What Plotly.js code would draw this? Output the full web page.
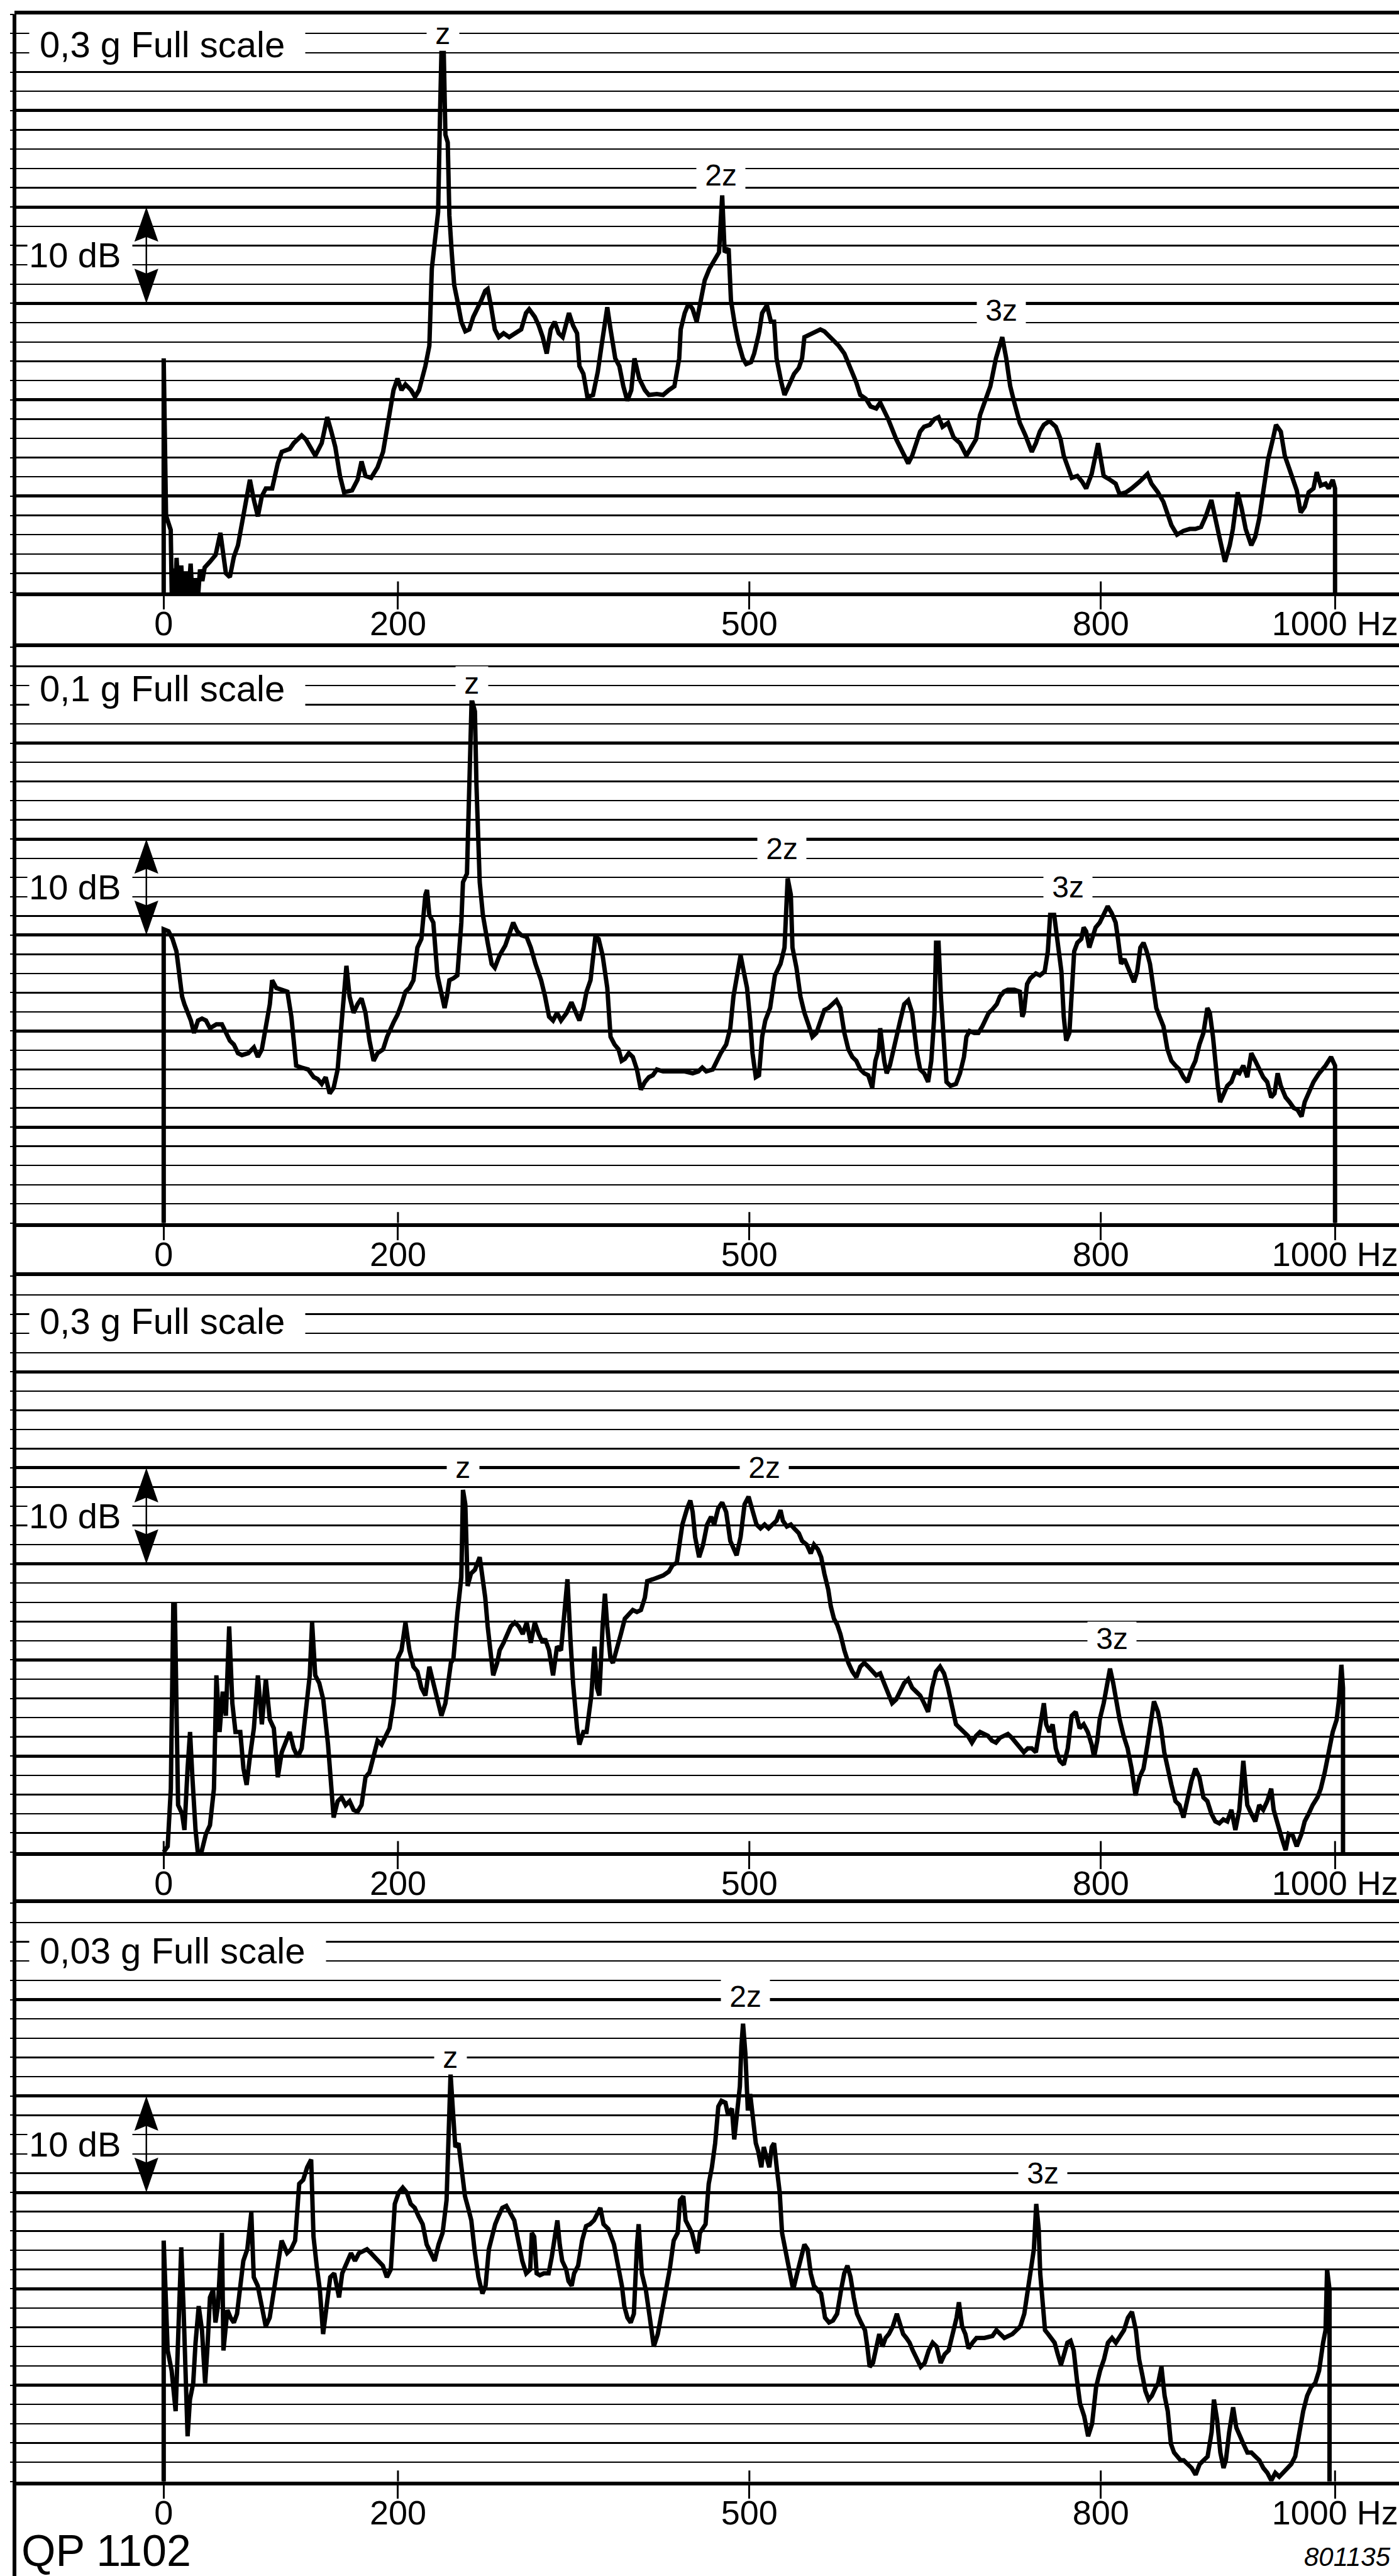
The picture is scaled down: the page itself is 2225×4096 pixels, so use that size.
<!DOCTYPE html>
<html><head><meta charset="utf-8">
<script src="https://cdn.plot.ly/plotly-3.0.1.min.js"></script>
<style>html,body{margin:0;padding:0;background:#fff;}#chart{width:2225px;height:4096px;}</style>
</head><body><div id="chart"></div>
<script>
// ---- data (frequency in Hz, level in dB above the bottom line of each panel) ----
const tickVals = [0, 200, 500, 800, 1000];
const tickText = ['0', '200', '500', '800', '1000 Hz'];
const scaleLabels = ['0,3 g Full scale', '0,1 g Full scale', '0,3 g Full scale', '0,03 g Full scale'];
const harmonicLabels = ['z', '2z', '3z'];
const harmonicFreq = [[238.4, 475.5, 715.3], [262.9, 527.9, 771.8], [255.5, 512.9, 809.3], [244.9, 496.6, 750.4]];
const harmonicLevel = [[58, 43.3, 29.3], [56.2, 39, 35], [40, 40, 22.2], [44, 50.3, 32]];

const freqP1 = [
0,0,2,6,7,8,9.5,11,13,15,
17,19,21,23,25,27,29,31,33,35,
39.5,44.3,48.4,53.1,56.5,59.9,63.4,66.8,70.2,73.6,
77,80.4,83.8,87.2,92.6,97.4,100.8,107.6,111,117.8,
121.3,124.7,129.4,134.9,139.6,143.1,146.5,150.5,154,160.8,
165.5,168.9,172.3,177.1,182.6,187.3,191.4,196.2,199.6,203,
206.4,211.2,214.6,218,223.4,226.8,228.9,231.6,234.3,235.7,
237.1,239.1,240.5,242.5,243.9,245.9,248,250.7,254.1,257.5,
260.9,264.3,267.7,271.1,274.5,276.6,279.3,282.7,286.1,290.2,
295,299.7,305.2,309.3,312,316.8,320.2,323.6,327,330.4,
333.8,337.2,340.6,346,349.5,352.9,354.9,358.3,361.7,366.5,
370.6,373.3,376,378.7,381.5,385.5,389,392.4,395.8,399.2,
401.9,406,410.8,414.2,421,426.4,431.2,436,440.1,441.4,
444.8,448.2,451.6,455,458.5,461.9,465.9,470,474.1,476.8,
478.9,482.3,484.3,487.7,490.5,494.5,497.3,501.4,504.1,508.2,
510.9,515,518.4,521.1,523.2,527.3,530,533.4,538.2,542.2,
545,547,550.4,555.9,560.6,564,568.8,572.2,576.3,581.1,
585.8,591.3,594.7,599.5,603.5,608.3,611.7,615.1,618.5,625.4,
630.8,635.6,639,642.4,645.8,649.2,654,658,661.5,664.9,
669.6,674.4,679.8,685.3,690,693.5,696.9,701.6,705.7,710.5,
715.9,719.3,722.7,726.2,730.9,735.7,741.1,744.6,748,751.4,
756.2,761.6,765.7,768.4,771.8,775.2,780,784.1,787.5,792.2,
797.7,800.4,802.5,807.9,812.7,816.1,821.5,826.3,829.7,833.1,
836.5,839.9,843.3,848.8,853.5,856.9,860.3,865.1,870.6,876,
880.8,885.6,889.6,894.4,897.8,901.2,906,910.1,912.8,916.9,
920.3,923.7,928.5,931.9,935.3,938.7,942.8,946.9,949.6,953.7,
957.1,960.5,964.6,967.3,970.7,974.1,977.5,981.6,984.4,987.8,
991.9,994.6,998,1000,1000];
const levelP1 = [
0,24.3,8,6.5,-1,2.5,-1.2,3.6,-0.8,2.8,
-1.4,2.2,-0.5,3,-1.5,1.5,-1,2.4,1.2,2.6,
3.2,3.9,6.2,2,1.6,3.7,4.9,7,9.6,11.7,
9.6,7.9,10,10.8,10.8,13.4,14.6,14.9,15.5,16.3,
15.9,15.1,14.2,15.5,18.2,16.7,15.1,12.1,10.4,10.6,
11.7,13.6,12.1,11.9,13,14.6,17.6,21,22.2,21,
21.6,21,20.3,21,23.5,25.6,33.6,36.2,39.5,48.4,
56,56,47.5,46.7,39.1,35.3,31.9,30.3,28.1,27.1,
27.3,28.6,29.4,30.3,31.3,31.5,29.8,27.3,26.5,26.9,
26.5,26.9,27.3,29,29.4,28.6,27.7,26.5,24.8,27.3,
28.1,26.9,26.5,29,27.7,26.9,23.5,22.7,20.3,20.5,
22.9,25.2,27.3,29.6,27.3,24.3,23.5,21.4,19.9,21,
24.3,22.2,21,20.5,20.6,20.5,21,21.4,24.3,27.3,
29,30,29.4,28.1,30.3,32.4,33.6,34.5,35.3,41.2,
35.3,35.7,30.3,27.7,26,24.3,23.7,23.9,24.8,26.9,
29,29.8,28.1,28.1,24.3,21.8,20.5,21.4,22.7,23.3,
24.3,26.5,26.7,27.1,27.3,27.1,26.5,26.2,25.6,24.8,
23.5,21.8,20.5,20.1,19.3,19.1,19.7,18.9,18,15.9,
14.6,13.4,14.2,15.5,16.7,17.2,17.4,18,18.2,17.2,
17.6,16.1,15.5,14.2,15.1,15.9,18.4,20.1,21.4,24.3,
26.5,24.3,21.4,19.7,17.6,16.3,14.6,15.5,16.7,17.4,
17.8,17.2,15.9,14.2,13,11.9,12.1,11.5,10.8,12.3,
15.5,13.8,12.1,11.7,11.3,10.2,10.4,10.8,11.1,11.5,
11.9,12.3,11.3,10.4,9.4,8.3,7,6,6.4,6.6,
6.6,6.8,7.9,9.6,7.9,5.8,3.2,4.9,6.6,10.4,
8.7,6.6,4.9,5.8,7.7,10.4,13.8,15.9,17.4,16.7,
14.2,13,11.7,10.6,8.3,8.9,10.4,10.8,12.5,11.1,
11.3,10.8,11.7,10.8,0];

const freqP2 = [
0,0,4.1,7.5,10.9,13.6,15.7,17.7,20.4,23.2,
25.9,29.3,32.7,36.1,39.5,45,49.7,53.1,56.5,59.9,
63.4,66.8,72.2,77,80.4,83.8,87.2,90.6,92.6,96.1,
100.8,105.6,109,113.1,117.8,123.3,128.1,131.5,134.9,138.3,
141.7,145.1,148.5,150.5,153.3,156,158.7,162.1,165.5,168.9,
172.3,175.7,179.2,182.6,187.3,190.7,196.2,199.6,203,206.4,
209.8,213.2,216.6,220,223.4,224.8,226.8,230.2,233.7,237.1,
239.8,241.8,243.9,247.3,250.7,254.1,255.5,258.9,260.9,262.9,
265.7,267,269.8,272.5,276.6,280,282.7,286.8,291.6,295,
298.4,301.8,305.2,309.9,313.4,317.4,322.2,325.6,329,332.4,
335.8,339.2,344,348.1,351.5,354.9,358.3,361,364.4,366.5,
368.5,371.3,374.7,378.7,381.5,384.9,388.3,391,393.7,397.1,
400.5,404,407.4,410.8,414.2,417.6,421,426.4,434.6,444.8,
451.6,456.4,459.8,463.2,468.7,472.1,475.5,480.2,483.7,486.4,
489.1,492.5,495.2,498,500.7,502.7,505.5,508.2,510.9,513.6,
517.7,521.8,526.6,530,532.7,535.4,536.8,540.2,543.6,547,
550.4,553.8,557.2,560.6,564,567.4,570.9,574.3,577.7,581.1,
584.5,587.9,591.3,594.7,598.1,601.5,604.9,607.6,610.4,611.7,
615.1,617.2,619.9,622.6,625.4,628.8,632.2,635.6,639,641,
643.1,645.8,649.2,652.6,655.3,656.7,658,659.4,661.5,663.5,
666.2,668.3,671.7,676.4,679.8,683.2,685.3,688,692.1,695.5,
698.9,701.6,704.4,707.1,711.2,713.9,717.3,720.7,726.2,730.9,
733,734.3,737.1,739.8,744.6,748,752.1,754.8,756.8,760.2,
763.6,766.4,768.4,770.5,773.2,775.2,777.3,780,783.4,785.4,
787.5,790.2,792.2,795.6,799.1,802.5,805.9,809.3,812.7,814.7,
817.4,820.2,824.3,828.3,831.1,833.8,836.5,839.2,842,844.7,
847.4,850.2,853.5,856.9,860.3,863.8,867.2,870.6,874,877.4,
880.8,884.2,887.6,891,893.1,895.8,897.8,899.9,901.9,904.6,
908,911.5,914.9,918.3,921.7,925.1,928.5,931.9,935.3,938.7,
942.1,945.5,948.3,951,953.7,957.8,961.2,964.6,968,971.4,
974.1,978.2,981.6,986.4,991.9,996.6,1000,1000];
const levelP2 = [
0,30.6,30.4,29.6,28.3,25.8,23.6,22.8,21.9,21.1,
19.8,21.1,21.3,21.1,20.3,20.7,20.7,19.8,19,18.6,
17.7,17.5,17.7,18.3,17.3,18.1,20.3,22.8,25.3,24.5,
24.3,24.1,21.5,16.4,16.2,16,15.2,15,14.5,15.2,
13.5,14.1,16,19,24.1,26.8,23.6,21.9,22.8,23.4,
21.9,19,16.9,17.7,18.1,19.4,20.9,21.7,22.8,24.1,
24.5,25.3,28.7,29.6,34.2,34.7,32.1,31.3,25.8,23.6,
22.4,23.6,25.3,25.5,25.8,31.3,35.5,36.4,44,54.6,
53.3,45.7,35.5,32.1,29.2,27,26.6,27.9,28.9,30,
31.3,30.4,30,29.8,28.7,27,25.3,23.6,21.5,21.1,
21.9,21.1,21.9,23,21.9,21.1,22.4,24.1,25.3,27.9,
29.8,29.6,27.9,24.5,19.4,18.6,18.1,16.9,17.1,17.7,
17.3,16,13.9,14.7,15.2,15.4,16,15.8,15.8,15.8,
15.6,15.8,16.2,15.8,16,16.9,17.7,18.6,20.3,23.6,
25.8,27.9,26.2,24.5,21.1,17.7,15.2,15.4,19.4,21.1,
22.4,25.8,27,28.7,35.9,34.2,28.7,26.6,23.6,21.9,
20.7,19.4,19.8,21.1,22.2,22.4,22.8,23.2,22.4,19.8,
18.1,17.3,16.9,16,15.6,15.4,14.1,16.9,18.1,20.3,
16.9,15.6,16.4,17.7,19,21.1,22.8,23.2,21.9,19.8,
17.7,16,15.6,14.7,16.9,19.4,21.9,29.2,29.2,23.6,
17.7,14.7,14.3,14.5,15.6,17.3,19.4,20,19.8,19.8,
20.5,21.1,21.9,22.2,22.8,23.6,24.1,24.3,24.3,24.1,
21.5,21.9,24.9,25.5,26,25.8,26.2,28.3,32.1,32.1,
28.3,26.2,21.5,19,19.8,24.9,28.3,29.2,29.6,30.8,
30.4,28.7,29.6,30.8,31.3,32.1,33,32.3,31.3,29.6,
27,27.5,26.2,25.1,26.2,28.7,29.2,28.3,27,24.9,
22.4,21.5,20.5,18.1,16.9,16.4,16,15.2,14.7,16,
16.9,18.6,19.8,22.4,21.9,19.4,16.4,14.3,12.6,13.5,
14.3,14.7,15.8,15.6,16.4,15.2,17.7,16.9,16,15.2,
14.7,13.1,13.5,15.6,14.3,13.1,12.6,12,11.8,11.1,
12.6,13.9,14.7,15.6,16.4,17.3,16.4,0];

const freqP3 = [
0,3.4,6.1,8.2,9.5,10.9,12.3,15.7,17.7,20.4,
22.5,24.5,27.2,30,32.7,36.1,39.5,42.9,45,47.7,
50.4,53.1,55.9,58.6,61.3,65.4,68.1,70.8,73.6,77,
80.4,83.8,87.2,90.6,94,97.4,100.8,104.2,107.6,111,
114.4,117.8,121.3,124.7,126.7,129.4,132.8,136.2,140.3,143.1,
145.1,148.5,151.9,155.3,158.7,162.1,165.5,168.9,172.3,175.7,
179.2,182.6,186,189.4,192.8,196.2,199.6,203,206.4,209.8,
213.2,216.6,220,223.4,226.8,230.2,233.7,237.1,240.5,242.5,
245.2,247.3,249.3,250.7,254.1,255.5,257.5,259.5,262.3,265.7,
269.8,272.5,274.5,276.6,279.3,281.3,284.7,286.8,290.2,292.9,
296.3,299.7,303.1,306.5,309.9,313.4,316.8,320.2,323.6,325.6,
329,332.4,335.8,339.2,342.6,344.7,347.4,349.5,352.9,354.9,
358.3,361,365.1,367.8,369.9,371.9,374.7,376.7,378.7,381.5,
383.5,386.9,390.3,393.7,397.1,400.5,404,407.4,410.8,412.8,
417.6,422.3,426.4,431.2,434.6,438,440.1,442.8,446.9,449.6,
451.6,453.7,457.1,460.5,463.9,467.3,470,473.4,476.8,480.2,
483.7,487.1,489.1,492.5,495.9,499.3,502.7,506.1,509.5,513,
516.4,519.8,523.2,526.6,528.6,532,535.4,538.2,542.2,545,
549,552.4,555.2,558.6,561.3,564,567.4,569.5,572.2,574.9,
577.7,581.1,584.5,587.9,591.3,594.7,598.1,601.5,604.9,608.3,
611.7,615.1,618.5,621.9,625.4,628.8,632.2,635.6,639,642.4,
645.8,649.2,652.6,656,659.4,662.8,666.2,669.6,673,676.4,
679.8,683.2,686.6,690,693.5,696.9,700.3,703.7,707.1,710.5,
713.9,717.3,720.7,724.1,727.5,730.9,734.3,737.7,741.1,744.6,
748,751.4,753.4,756.2,758.9,761.6,765,768.4,771.8,775.2,
778.6,782,785.4,788.9,792.2,794.3,797,799.1,802.5,805.9,
807.9,810.6,812.7,816.1,819.5,822.9,826.3,829.7,833.1,836.5,
839.9,843.3,845.4,848.8,851.5,854.2,856.9,860.3,863.8,867.2,
870.6,874,877.4,880.8,884.2,887.6,891,894.4,897.8,901.2,
904.6,908,911.5,914.9,918.3,921.7,925.1,928.5,931.9,935.3,
938.7,942.1,945.5,947.6,951,954.4,957.8,960.5,964,967.3,
971.4,974.1,977.5,980.9,985,987.8,991.2,994.6,998,1001.4,
1003.4,1005.4,1006.8,1006.8];
const levelP3 = [
0,0.6,6.6,25.8,25.8,15,4.9,4,2.3,8.7,
12.5,7.8,2.3,-1.1,0.2,1.9,2.8,6.6,18.4,12.5,
16.7,14.2,23.5,15.5,12.5,12.5,8.7,7,9.9,12.9,
18.4,13.3,18,13.8,12.9,7.8,10.4,11.6,12.5,10.8,
9.9,10.8,15,18.4,23.9,18.4,17.6,15.9,11.2,7.4,
3.6,5.3,5.7,4.9,5.3,4.4,4.2,4.9,7.8,8.3,
9.9,11.6,11.2,12.1,12.9,15.5,20.1,21,23.9,21,
19.3,18.8,17.1,16.3,19.3,17.6,15.9,14.2,15.5,17.1,
19.7,20.1,23.5,24.8,28.6,37.7,36.2,27.7,29,29.4,
30.7,28.2,26.5,23.5,21,18.4,19.7,21,21.8,22.7,
23.5,23.9,23.5,22.7,23.9,21.8,23.9,22.7,21.8,22.2,
21,18.4,21.4,21,25.2,28.4,21.8,17.6,12.9,11.2,
12.5,12.5,16.3,21.4,17.1,16.3,23.5,26.9,23.5,20.1,
19.7,21.4,22.7,24.3,24.8,25.2,25,25.2,26.5,28.2,
28.4,28.6,28.8,29.2,29.9,30.1,32,34.1,35.8,36.6,
35.4,32.8,30.7,32,34.1,34.9,34.1,35.8,36.4,35.4,
32.4,31.5,30.9,32.8,36.2,37,35.4,34.1,33.7,34.1,
33.7,34.1,34.5,35.6,34.5,33.9,34.1,33.7,33.2,32.4,
32,31.1,32,31.5,30.7,29,27.3,25.6,24.3,23.7,
22.7,21,19.7,18.8,18.2,19.3,19.7,19.3,18.8,18.4,
18.6,17.6,16.7,15.5,15.9,16.7,17.6,18,17.1,16.7,
16.3,15.5,14.6,17.1,18.8,19.3,18.6,17.1,15,13.3,
12.9,12.5,12.1,11.4,12.1,12.5,12.3,12.1,11.6,11.4,
11.9,12.1,12.3,11.9,11.4,10.8,10.4,10.8,10.8,10.4,
12.9,15.5,13.3,12.5,13.3,10.8,9.5,9.1,10.8,14.2,
14.6,12.9,13.3,12.5,11.2,9.9,11.6,13.8,15.5,17.6,
19.1,17.6,15.9,13.8,12.1,10.8,8.7,5.9,7.8,8.7,
11.2,14.2,15.7,14.6,12.9,10.4,8.7,7,5.3,4.9,
3.6,5.7,7.4,8.7,7.8,5.7,5.3,4,3.2,3,
3.4,3.2,4.4,2.3,4.4,9.5,4.9,4,3.2,4.9,
4.4,5.3,6.6,4.4,2.8,1.5,0.2,1.9,1.7,0.6,
1.9,3.2,4,4.9,5.7,6.6,8.3,10.4,12.5,13.8,
15.9,19.5,17.1,0];

const freqP4 = [
0,0,3.4,6.8,10.2,12.2,15,17,19,20.4,
22.4,25.2,27.2,29.9,32.7,35.4,37.4,39.5,42.2,44.2,
46.3,47.6,49.7,51,54.4,57.1,59.9,62.6,65.3,68,
71.4,74.8,76.9,80.3,83.7,87.1,90.5,93.9,97.3,100.7,
105.4,108.8,112.2,115.7,119.1,122.5,125.9,127.9,130.6,133.3,
136.1,138.8,142.2,145.6,149.7,152.4,156.5,159.9,163.3,166.7,
170.1,173.5,176.9,180.3,183.7,187.1,190.5,193.9,197.3,200.7,
204.1,207.5,210.9,214.3,217.7,221.1,224.5,227.9,231.3,234.7,
238.1,241.5,244.9,246.9,249,251.7,255.1,257.2,259.9,262.6,
265.3,268.7,272.1,274.8,277.6,280.3,283,285.7,289.1,292.5,
295.9,299.3,302.7,306.1,309.5,312.9,314.3,316.3,318.4,321.1,
324.5,328.6,331.3,333.3,336.1,338.1,340.2,343.6,345.6,348.3,
350.4,353.8,357.2,360.6,364,367.4,370.8,372.8,375.5,379.6,
384.4,387.8,391.2,393.2,395.9,398.7,401.4,404.1,405.5,408.2,
411.6,415,418.4,421.8,425.2,428.6,432,435.4,438.8,440.8,
443.6,445.6,447.6,451,454.4,455.8,457.8,459.9,462.6,465.3,
468,470.8,473.5,476.2,479.6,481.7,485.1,487.1,489.8,491.9,
493.2,494.6,496.6,498.7,500.7,503.4,505.5,507.5,510.2,512.3,
514.3,517,519.1,521.1,523.8,525.9,527.9,530.6,534,537.4,
540.8,544.2,547,549.7,552.4,555.1,557.8,561.2,564.6,568,
571.4,574.9,578.3,581,583.7,586.4,589.1,591.9,595.3,598.7,
600.7,602.7,605.5,608.2,610.9,613.6,616.3,619.1,622.5,625.9,
628.6,631.3,634,636.8,639.5,642.9,646.3,649.7,653.1,656.5,
659.9,663.3,666.7,670.1,673.5,676.9,678.9,681.6,684.4,687.1,
690.5,693.9,700.7,707.5,710.9,714.3,717.7,721.1,724.5,727.9,
731.3,734.7,737.5,740.2,742.9,744.9,747,748.3,750.4,752.4,
755.1,757.9,760.6,763.3,766,768.7,771.5,774.2,776.9,779.6,
782.3,785.8,789.2,792.6,796,799.4,802.8,806.1,809.6,812.9,
816.4,819.8,823.2,826.6,830,832.7,835.4,838.1,840.9,843.6,
847,849,851.8,854.5,857.2,859.9,862.6,865.3,868.1,870.8,
874.2,877.6,881,884.4,887.8,891.2,894.6,896.6,899.3,902.1,
904.8,906.8,909.6,913,915.7,918.4,921.8,925.2,928.6,932,
935.4,938.8,942.2,945.6,949,952.4,955.8,959.2,962.6,966,
969.4,972.8,976.2,979.6,983,986.4,989.8,991.9,993.2,995.3,
995.3];
const levelP4 = [
0,25,13.6,11.5,7.3,15.7,24.3,17.8,11.5,4.7,
8.5,10.2,14.4,18.2,15.7,10.2,14,19.1,19.9,16.5,
18.2,21.6,25.8,13.6,17.8,17,16.5,17.4,19.9,22.9,
24.1,27.9,21.2,20.3,18.2,16.1,17,19.9,22.4,25,
23.7,24.1,25,30.9,31.3,32.6,33.4,25.4,22.4,19.9,
15.3,18.2,21.2,21.6,19.1,21.6,22.9,23.7,22.9,23.7,
23.9,24.1,23.7,23.3,22.9,22.4,21.2,22,28.8,30,
30.5,30,28.8,28.4,27.5,26.7,24.6,23.7,22.9,24.6,
25.8,29.2,42.3,38.5,34.7,35.1,31.7,29.6,28.4,27.1,
24.1,21.2,19.5,20.3,24.1,25.4,26.7,27.5,28.4,28.6,
27.9,27.1,25,22.9,21.6,22,25.8,25.4,21.6,21.4,
21.6,21.6,23.3,25,27.1,24.6,22.9,22,20.8,20.3,
21.6,22.4,25,26.5,26.7,27.1,27.9,28.4,26.7,26.2,
24.6,22.4,20.3,18.2,17,16.5,17.4,24.6,26.7,21.6,
19.9,17,14,15.3,17.4,19.9,22,25,25.8,29.2,
29.6,27.1,26.7,25.8,24.1,23.7,25.8,26.2,26.7,30.9,
32.6,35.1,38.9,39.5,39.3,38.1,38.7,35.5,38.5,41,
45.2,47.5,44.4,38.5,40.2,36.8,35.1,34.3,32.6,34.7,
33.8,32.6,34.7,35.1,32.1,30,25.8,24.1,22.4,19.9,
21.6,23.3,24.6,24.1,21.6,20.3,19.9,19.5,17,16.5,
16.7,17.4,19.9,21.6,22.4,21.2,19.1,17.4,16.5,15.7,
14,11.9,12.3,13.6,15.3,14,14.9,15.3,16.1,17.4,
16.5,15.3,14.9,14.4,13.6,12.7,11.9,12.3,13.6,14.4,
14,12.3,13.2,13.6,15.3,17,18.6,16.1,15.3,13.8,
14.4,14.9,14.9,15.1,15.7,15.3,14.9,15.1,15.3,15.7,
16.1,17.4,19.9,21.6,24.1,28.8,26.2,21.6,17.8,15.7,
15.3,14.9,14.4,13.2,12.1,13.2,14.4,14.6,13.6,10.6,
8.1,6.8,4.7,6,9.8,11.5,12.7,14.4,14.9,14.4,
15.1,15.7,17,17.6,15.7,12.7,11.1,9.4,8.5,8.9,
9.8,10.2,11.9,8.9,7.3,3.9,3,2.6,2.2,2.2,
1.8,1.4,0.7,1.8,2.2,2.6,5.1,8.5,6.4,3,
1.4,2.2,5.1,7.7,5.6,4.7,3.9,3,3,2.6,
2.2,1.4,0.9,0.1,0.9,0.5,0.9,1.4,1.8,2.6,
5.1,7.3,8.9,9.8,10.2,11.5,14.4,15.7,22,19.9,
0];

// ---- drawing ----
const FONT = 'Liberation Sans, Arial, Helvetica, sans-serif';
const INK = '#000';
const freqs = [freqP1, freqP2, freqP3, freqP4];
const levels = [levelP1, levelP2, levelP3, levelP4];
const domains = [[0.76997, 0.99448], [0.52520, 0.74880], [0.28101, 0.50476], [0.03667, 0.26116]];
const scaleLabelLevel = [56.9, 55.7, 55.3, 55.1];
const xRange = [-127.4, 1054.6];

const traces = [];
const layout = {
  width: 2225, height: 4096,
  margin: {l: 23, r: 0, t: 0, b: 0},
  paper_bgcolor: '#fff', plot_bgcolor: 'rgba(0,0,0,0)',
  showlegend: false,
  font: {family: FONT, color: INK},
  annotations: [], shapes: []
};

for (let i = 0; i < 4; i++) {
  const n = i === 0 ? '' : String(i + 1);
  const xa = 'x' + n, ya = 'y' + n;
  traces.push({
    type: 'scatter', mode: 'lines', x: freqs[i], y: levels[i],
    xaxis: xa, yaxis: ya, hoverinfo: 'skip',
    line: {color: INK, width: 7}
  });
  layout['xaxis' + n] = {
    domain: [0, 1], range: xRange, anchor: ya,
    showgrid: false, zeroline: false,
    showline: true, mirror: true, linecolor: INK, linewidth: 6,
    ticks: 'outside', ticklen: 21, tickwidth: 3, tickcolor: INK,
    ticklabelstandoff: -24, ticklabeloverflow: 'allow',
    tickmode: 'array', tickvals: tickVals, ticktext: tickText,
    tickfont: {family: FONT, size: 54, color: INK}, fixedrange: true
  };
  layout['yaxis' + n] = {
    domain: domains[i], range: [0, 60], anchor: xa,
    showgrid: true, gridcolor: INK, gridwidth: 5, dtick: 10, tick0: 0,
    zeroline: false, showline: false, showticklabels: false,
    ticks: 'outside', ticklen: 6, tickwidth: 2, tickcolor: INK,
    minor: {dtick: 2, tick0: 0, showgrid: true, gridcolor: INK, gridwidth: 2.4,
            ticks: 'outside', ticklen: 6, tickwidth: 2, tickcolor: INK},
    fixedrange: true
  };
  // full-scale label
  layout.annotations.push({
    xref: xa, yref: ya, x: -115, y: scaleLabelLevel[i], xanchor: 'left', yanchor: 'middle',
    text: '\u00a0' + scaleLabels[i] + '\u00a0\u00a0', showarrow: false,
    font: {family: FONT, size: 58, color: INK}, bgcolor: '#fff', borderpad: 0
  });
  // 10 dB label
  layout.annotations.push({
    xref: xa, yref: ya, x: -116.6, y: 35, xanchor: 'left', yanchor: 'middle',
    text: '10 dB\u00a0', showarrow: false,
    font: {family: FONT, size: 56, color: INK}, bgcolor: '#fff', borderpad: 2
  });
  // harmonic labels
  for (let j = 0; j < harmonicLabels.length; j++) {
    layout.annotations.push({
      xref: xa, yref: ya, x: harmonicFreq[i][j], y: harmonicLevel[i][j],
      xanchor: 'center', yanchor: 'middle',
      text: '\u00a0' + harmonicLabels[j] + '\u00a0', showarrow: false,
      font: {family: FONT, size: 48, color: INK}, bgcolor: '#fff', borderpad: 0
    });
  }
  // 10 dB double arrow
  layout.shapes.push({type: 'line', xref: xa, yref: ya, x0: -14.8, x1: -14.8, y0: 31, y1: 39,
    line: {color: INK, width: 2.5}});
  layout.shapes.push({type: 'path', xref: xa, yref: ya,
    path: 'M -14.8 40 L -25 36.4 L -14.8 36.9 L -4.6 36.4 Z', fillcolor: INK, line: {width: 0}});
  layout.shapes.push({type: 'path', xref: xa, yref: ya,
    path: 'M -14.8 30 L -25 33.6 L -14.8 33.1 L -4.6 33.6 Z', fillcolor: INK, line: {width: 0}});
  // upper half of the frequency tick marks (ticks cross the axis)
  tickVals.forEach(function (tv) {
    layout.shapes.push({type: 'line', xref: xa, yref: ya, x0: tv, x1: tv, y0: 0, y1: 1.15,
      line: {color: INK, width: 3}});
  });
}

// continuous left border of the recorder paper
layout.shapes.push({type: 'line', xref: 'paper', yref: 'paper', x0: 0, x1: 0, y0: 0, y1: 0.9945,
  line: {color: INK, width: 6}});

layout.annotations.push({
  xref: 'paper', yref: 'paper', x: 0.0045, y: 0, xanchor: 'left', yanchor: 'bottom',
  text: 'QP 1102', showarrow: false, font: {family: FONT, size: 70, color: INK}, borderpad: 0
});
layout.annotations.push({
  xref: 'paper', yref: 'paper', x: 0.995, y: 0.0075, xanchor: 'right', yanchor: 'middle',
  text: '801135', showarrow: false, font: {family: FONT, size: 42, color: INK, style: 'italic'}
});

Plotly.newPlot('chart', traces, layout, {staticPlot: true, displayModeBar: false});
</script>
</body></html>
